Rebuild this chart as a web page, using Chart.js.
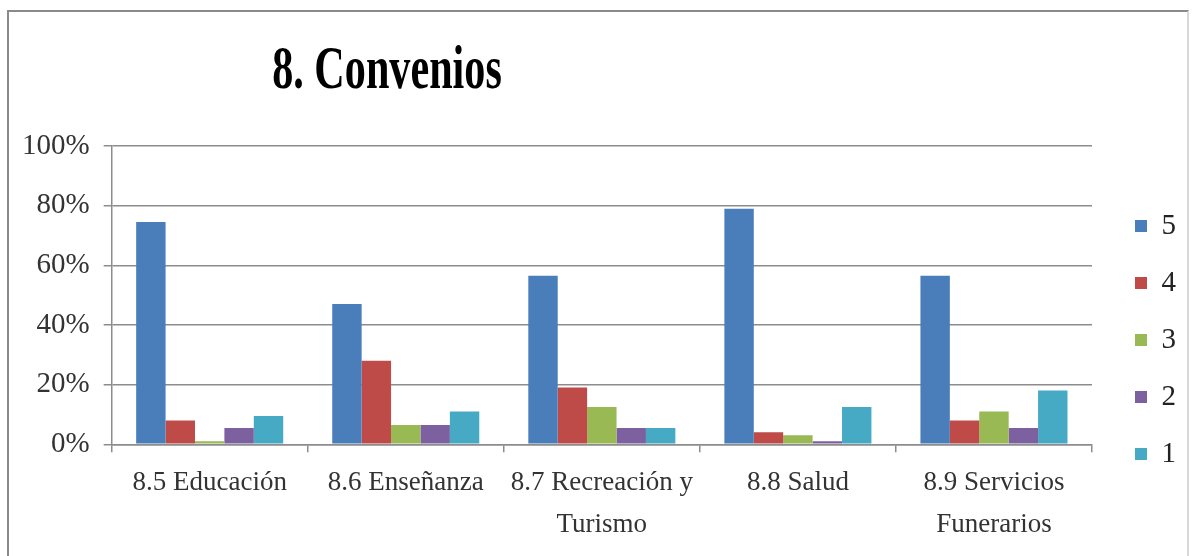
<!DOCTYPE html>
<html>
<head>
<meta charset="utf-8">
<script src="https://cdn.jsdelivr.net/npm/chart.js@4/dist/chart.umd.min.js"></script>
<style>
  html, body { margin: 0; padding: 0; background: #fff; }
  #wrap { position: relative; width: 1196px; height: 556px; overflow: hidden; }
  #frame {
    position: absolute; left: 7px; top: 10px; width: 1178px; height: 560px;
    border-top: 2px solid #8a8a8a; border-left: 2px solid #8a8a8a;
    border-right: 2px solid #d8d8d8;
  }
  canvas { position: absolute; left: 0; top: 0; }
</style>
</head>
<body>
<div id="wrap">
  <div id="frame"></div>
  <canvas id="convenios" width="1196" height="556"></canvas>
</div>
<script>
var chartTitle = '8. Convenios';
var categories = ['8.5 Educación', '8.6 Enseñanza', ['8.7 Recreación y', 'Turismo'], '8.8 Salud', ['8.9 Servicios', 'Funerarios']];
var seriesNames = ['5', '4', '3', '2', '1'];
var score5 = [74.5, 47, 56.5, 79, 56.5];
var score4 = [8, 28, 19, 4, 8];
var score3 = [1, 6.5, 12.5, 3, 11];
var score2 = [5.5, 6.5, 5.5, 1, 5.5];
var score1 = [9.5, 11, 5.5, 12.5, 18];
var yTicks = [0, 20, 40, 60, 80, 100];

var colors = ['#4a7ebb', '#be4b48', '#98b954', '#7d60a0', '#46aac5'];
var allScores = [score5, score4, score3, score2, score1];

var datasets = [];
for (var i = 0; i < seriesNames.length; i++) {
  datasets.push({
    label: seriesNames[i],
    data: allScores[i],
    backgroundColor: colors[i],
    borderWidth: 0,
    barPercentage: 1,
    categoryPercentage: 0.75
  });
}

// big condensed heading over the plot
var titlePlugin = {
  id: 'squeezedTitle',
  afterDraw: function(chart) {
    var ctx = chart.ctx;
    ctx.save();
    ctx.font = 'bold 62px "Liberation Serif", "Times New Roman", serif';
    ctx.fillStyle = '#000';
    ctx.textAlign = 'center';
    ctx.textBaseline = 'alphabetic';
    ctx.translate(387, 88);
    ctx.scale(0.68, 1);
    ctx.fillText(chartTitle, 0, 0);
    ctx.restore();
  }
};

// move the legend keys a little right and up from where chart.js parks them
var legendNudge = {
  id: 'legendNudge',
  afterLayout: function(chart) {
    var lg = chart.legend;
    lg.left += 15; lg.right += 15;
    lg.top -= 11; lg.bottom -= 11;
  }
};

var serif = '"Liberation Serif", "Times New Roman", serif';

new Chart(document.getElementById('convenios'), {
  type: 'bar',
  data: { labels: categories, datasets: datasets },
  plugins: [titlePlugin, legendNudge],
  options: {
    responsive: false,
    animation: false,
    layout: { padding: { top: 146, left: 8, right: 25, bottom: 0 } },
    plugins: {
      title: { display: false },
      tooltip: { enabled: false },
      legend: {
        position: 'right',
        labels: {
          boxWidth: 12,
          boxHeight: 12,
          padding: 28,
          color: '#222',
          font: { family: serif, size: 29 }
        }
      }
    },
    scales: {
      x: {
        grid: { drawOnChartArea: false, drawTicks: true, tickLength: 8, color: '#8c8c8c', lineWidth: 1.5 },
        border: { color: '#8c8c8c', width: 1.5 },
        ticks: {
          color: '#333',
          padding: 10,
          maxRotation: 0,
          autoSkip: false,
          font: { family: serif, size: 27, lineHeight: 1.55 }
        }
      },
      y: {
        min: 0,
        max: 100,
        afterBuildTicks: function(axis) {
          axis.ticks = yTicks.map(function(v) { return { value: v }; });
        },
        grid: { color: '#8c8c8c', lineWidth: 1.5, tickLength: 8 },
        border: { color: '#8c8c8c', width: 1.5 },
        ticks: {
          color: '#333',
          padding: 14,
          font: { family: serif, size: 29 },
          callback: function(v) { return v + '%'; }
        }
      }
    }
  }
});
</script>
</body>
</html>
